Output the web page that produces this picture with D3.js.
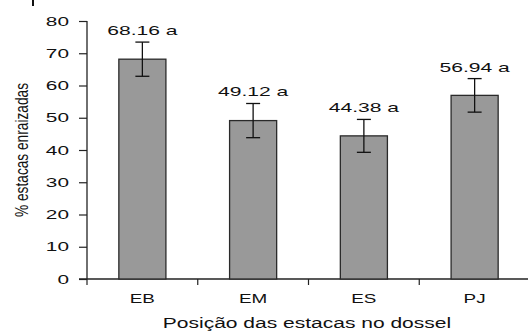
<!DOCTYPE html>
<html><head><meta charset="utf-8">
<script src="https://cdn.jsdelivr.net/npm/d3@7"></script>
<style>
body{margin:0;background:#fff;}
text{font-family:"Liberation Sans",Arial,sans-serif;fill:#111;}
</style></head>
<body><svg id="c" width="528" height="331"></svg>
<script>
const categories = ["EB","EM","ES","PJ"];
const values = [68.16, 49.12, 44.38, 56.94];
const errors = [5.3, 5.3, 5.1, 5.2];
const letters = ["a","a","a","a"];
const yTicks = [0,10,20,30,40,50,60,70,80];
const yTitle = "% estacas enraizadas";
const xTitle = "Posição das estacas no dossel";

const svg = d3.select("#c");
const x0 = 87, x1 = 530, yTop = 21, yBot = 279;
const x = d3.scaleBand().domain(categories).range([x0, x1]).paddingInner(0.575).paddingOuter(0.2875);
const y = d3.scaleLinear().domain([0,80]).range([yBot, yTop]);

function stretch(sel, k){
  sel.each(function(){
    const L = this.getComputedTextLength();
    d3.select(this).attr("textLength", L*k).attr("lengthAdjust","spacingAndGlyphs");
  });
}

// small crop artifact at top-left
svg.append("line").attr("x1",33).attr("x2",33).attr("y1",0).attr("y2",6).attr("stroke","#111").attr("stroke-width",2);

// y axis
const ya = svg.append("g").attr("transform",`translate(${x0},0)`)
  .call(d3.axisLeft(y).tickValues(yTicks).tickSize(8).tickPadding(10));
ya.select(".domain").attr("stroke","#222").attr("stroke-width",1.3).attr("d",`M0,${yTop}V${yBot}`);
ya.selectAll(".tick line").attr("stroke","#222").attr("stroke-width",1.2);
ya.selectAll(".tick text").attr("font-size",13).style("font-family","Liberation Sans, Arial").attr("fill","#111").call(stretch,1.6);

// x axis
const xa = svg.append("g").attr("transform",`translate(0,${yBot})`);
xa.append("line").attr("x1",x0-8).attr("x2",x1).attr("stroke","#222").attr("stroke-width",1.3);
const step = x.step();
const bounds = d3.range(categories.length+1).map(i => x0 + i*step);
xa.selectAll(".xt").data(bounds).join("line").attr("x1",d=>d).attr("x2",d=>d).attr("y1",0).attr("y2",6).attr("stroke","#222").attr("stroke-width",1.2);
xa.selectAll(".xl").data(categories).join("text")
  .attr("x", d => x(d)+x.bandwidth()/2).attr("y", 24).attr("text-anchor","middle")
  .attr("font-size",13).text(d=>d).call(stretch,1.45);

// bars
svg.selectAll(".bar").data(values).join("rect")
  .attr("x",(d,i)=>x(categories[i])).attr("width",x.bandwidth())
  .attr("y",d=>y(d)).attr("height",d=>yBot-y(d))
  .attr("fill","#999999").attr("stroke","#2a2a2a").attr("stroke-width",1.3);

// error bars
const eg = svg.selectAll(".err").data(values).join("g");
eg.each(function(d,i){
  const g = d3.select(this), cx = x(categories[i])+x.bandwidth()/2;
  const t = y(d+errors[i]), b = y(d-errors[i]);
  g.append("line").attr("x1",cx).attr("x2",cx).attr("y1",t).attr("y2",b).attr("stroke","#111").attr("stroke-width",1.3);
  [t,b].forEach(yy=>g.append("line").attr("x1",cx-7).attr("x2",cx+7).attr("y1",yy).attr("y2",yy).attr("stroke","#111").attr("stroke-width",1.3));
  g.append("text").attr("x",cx).attr("y",t-7).attr("text-anchor","middle").attr("font-size",13)
   .text(d.toFixed(2)+" "+letters[i]).call(stretch,1.62);
});

// titles
svg.append("text").attr("transform","translate(28,150) scale(1.45,1) rotate(-90)").attr("text-anchor","middle")
  .attr("font-size",13).text(yTitle).attr("textLength",134).attr("lengthAdjust","spacingAndGlyphs");
svg.append("text").attr("x",307).attr("y",328).attr("text-anchor","middle").attr("font-size",14)
  .text(xTitle).call(stretch,1.5);
</script></body></html>
